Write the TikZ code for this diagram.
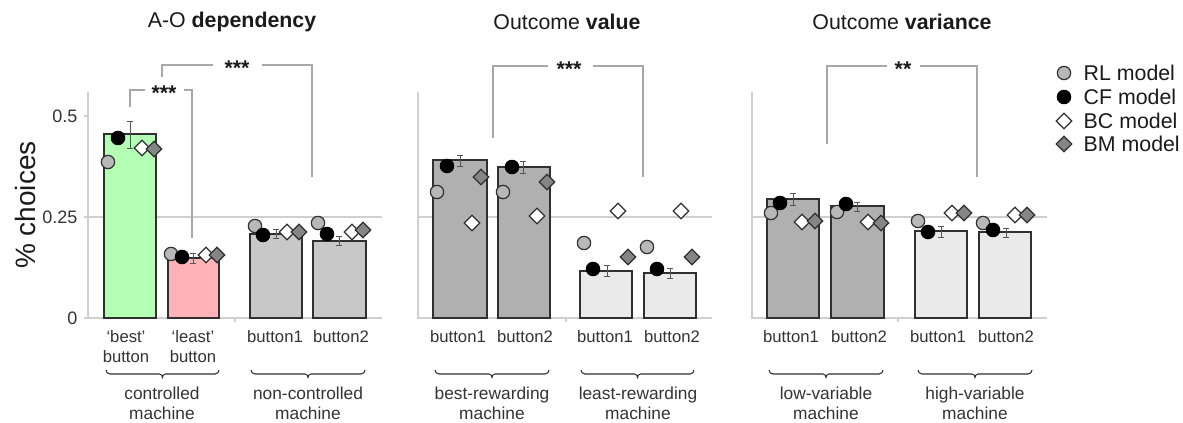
\documentclass[tikz,border=0pt]{standalone}
\usepackage{fontspec}
\setmainfont{Liberation Sans}
\usetikzlibrary{shapes.geometric}

\definecolor{greenbar}{HTML}{B3FFB3}
\definecolor{redbar}{HTML}{FFB3B8}
\definecolor{midbar}{HTML}{C8C8C8}
\definecolor{darkbar}{HTML}{B0B0B0}
\definecolor{lightbar}{HTML}{EAEAEA}
\definecolor{outline}{HTML}{303030}
\definecolor{rlfill}{HTML}{B8B8B8}
\definecolor{bmfill}{HTML}{858585}
\definecolor{axisc}{HTML}{CFCFCF}
\definecolor{brc}{HTML}{A8A8A8}
\definecolor{errc}{HTML}{555555}
\definecolor{txt}{HTML}{333333}
\definecolor{ttl}{HTML}{1A1A1A}

\tikzset{
  barbox/.style={draw=outline, line width=1.3pt},
  mk/.style={draw=outline, line width=0.9pt, inner sep=0pt, outer sep=0pt},
  rl/.style={mk, circle, fill=rlfill, minimum size=10pt},
  cf/.style={mk, circle, fill=black, draw=black, minimum size=10pt},
  bc/.style={mk, diamond, aspect=1, fill=white, minimum size=11.5pt},
  bm/.style={mk, diamond, aspect=1, fill=bmfill, minimum size=11.5pt},
  eb/.style={draw=errc, line width=0.6pt},
  axisline/.style={draw=axisc, line width=1pt},
  sigline/.style={draw=brc, line width=1.1pt},
  stars/.style={anchor=base, inner sep=0pt, text=ttl,
    font=\bfseries\fontsize{16}{16}\selectfont},
  ticklab/.style={anchor=east, text=txt, font=\fontsize{13.5}{13.5}\selectfont},
  btnlab/.style={align=center, text=txt, font=\fontsize{12.5}{15}\selectfont},
  grplab/.style={align=center, text=txt, font=\fontsize{13}{15}\selectfont},
  title/.style={text=ttl, font=\fontsize{16}{16}\selectfont},
  leglab/.style={anchor=west, text=ttl, font=\fontsize{16}{16}\selectfont},
  bracepath/.style={draw=outline, line width=0.8pt},
}

% horizontal brace under a group of bars: ends hook up, middle tip points down
\newcommand\grpbrace[2]{%
  \pgfmathsetmacro\bl{#1+4}%
  \pgfmathsetmacro\br{#2-4}%
  \pgfmathsetmacro\bm{(#1+#2)/2}%
  \pgfmathsetmacro\bml{\bm-3}%
  \pgfmathsetmacro\bmr{\bm+3}%
  \draw[bracepath] (#1,370) to[out=-90,in=180] (\bl,374)
    -- (\bml,374) to[out=0,in=90] (\bm,377.5)
    to[out=90,in=180] (\bmr,374)
    -- (\br,374) to[out=0,in=-90] (#2,370);}

\begin{document}
\begin{tikzpicture}[x=0.75pt, y=-0.75pt]
\useasboundingbox (0,0) rectangle (1183,423);

% ---------- axes, reference line at 0.25 ----------
\foreach \l/\r/\m in {88/382/235, 418/712/566, 752/1047/898}{
  \draw[axisline] (\l,92) -- (\l,318) -- (\r,318);
  \draw[axisline] (\l,217) -- (\r,217);
  \draw[axisline] (\m,318) -- (\m,322);
}
\foreach \y in {116,217,318} \draw[axisline] (84,\y) -- (88,\y);
\node[ticklab] (t50) at (82,116) {0.5};
\node[ticklab] (t25) at (82,217) {0.25};
\node[ticklab] (t00) at (82,318) {0};
\node[rotate=90, text=ttl, font=\fontsize{21}{21}\selectfont] (ylab) at (25,205) {\% choices};

% ---------- bars ----------
\foreach \a/\b/\t/\c in {
  104/156/134/greenbar, 168/219/258/redbar, 250/302/234/midbar, 313/366/241/midbar,
  433/487/160/darkbar, 498/550/167/darkbar, 580/632/271/lightbar, 644/696/273/lightbar,
  767/819/199/darkbar, 831/884/206/darkbar, 915/967/231/lightbar, 979/1031/232/lightbar}
  \draw[barbox, fill=\c] (\a,318) rectangle (\b,\t);

% ---------- error bars ----------
\foreach \x/\a/\b in {
  130/121/148, 193/253/263, 276/229/238, 339/236/245,
  460/155/166, 523/161/173, 607/265/276, 670/268/278,
  793/193/205, 857/202/211, 941/226/237, 1006/228/237}
  \draw[eb] (\x-3,\a) -- (\x+3,\a) (\x,\a) -- (\x,\b) (\x-3,\b) -- (\x+3,\b);

% ---------- model predictions ----------
\foreach \x/\y [count=\i] in {
  108/162, 171/254, 255/226, 318/223,
  437/192, 503/192, 584/243, 647/247,
  771/213, 837/212, 918/221, 983/223}
  \node[rl] (rl\i) at (\x,\y) {};
\foreach \x/\y [count=\i] in {
  118/138, 182/257, 263/235, 327/234,
  447/166, 512/167, 593/269, 657/269,
  780/203, 846/204, 928/232, 993/230}
  \node[cf] (cf\i) at (\x,\y) {};
\foreach \x/\y [count=\i] in {
  142/148, 206/255, 287/232, 352/232,
  472/223, 537/216, 618/211, 681/211,
  802/222, 868/222, 952/213, 1015/215}
  \node[bc] (bc\i) at (\x,\y) {};
\foreach \x/\y [count=\i] in {
  154/149, 217/255, 299/232, 363/230,
  481/177, 547/182, 628/257, 692/257,
  815/221, 881/223, 964/213, 1027/215}
  \node[bm] (bm\i) at (\x,\y) {};

% ---------- significance brackets ----------
% A-O dependency: best vs least
\coordinate (b1l) at (130,107); \coordinate (b1r) at (192,238);
\coordinate (g1l) at (145,90);  \coordinate (g1r) at (184,90);
\node[stars] (s1) at (164,101) {***};
\draw[sigline] (b1l) |- (g1l);
\draw[sigline] (g1r) -| (b1r);
% A-O dependency: controlled vs non-controlled
\coordinate (b2l) at (162,77);  \coordinate (b2r) at (312,177);
\coordinate (g2l) at (213,65);  \coordinate (g2r) at (262,65);
\node[stars] (s2) at (237,76) {***};
\draw[sigline] (b2l) |- (g2l);
\draw[sigline] (g2r) -| (b2r);
% Outcome value
\coordinate (b3l) at (493,138); \coordinate (b3r) at (643,177);
\coordinate (g3l) at (548,66);  \coordinate (g3r) at (593,66);
\node[stars] (s3) at (569,77) {***};
\draw[sigline] (b3l) |- (g3l);
\draw[sigline] (g3r) -| (b3r);
% Outcome variance
\coordinate (b4l) at (827,144); \coordinate (b4r) at (977,177);
\coordinate (g4l) at (887,66);  \coordinate (g4r) at (920,66);
\node[stars] (s4) at (903,77) {**};
\draw[sigline] (b4l) |- (g4l);
\draw[sigline] (g4r) -| (b4r);

% ---------- titles ----------
\node[title] (h1) at (232,22) {A-O \textbf{dependency}};
\node[title] (h2) at (567,22) {Outcome \textbf{value}};
\node[title] (h3) at (902,22) {Outcome \textbf{variance}};

% ---------- bar labels ----------
\node[btnlab] (l1) at (126,347) {‘best’\\button};
\node[btnlab] (l2) at (193,347) {‘least’\\button};
\foreach \x/\n [count=\i] in {275/1, 341/2, 458/1, 525/2, 605/1, 672/2, 791/1, 859/2, 938/1, 1006/2}
  \node[btnlab] (bl\i) at (\x,337) {button\n};

% ---------- group braces and labels ----------
\grpbrace{106}{219}
\grpbrace{251}{365}
\grpbrace{435}{549}
\grpbrace{581}{694}
\grpbrace{769}{883}
\grpbrace{918}{1032}
\node[grplab] (m1) at (162,403) {controlled\\machine};
\node[grplab] (m2) at (308,403) {non-controlled\\machine};
\node[grplab] (m3) at (492,403) {best-rewarding\\machine};
\node[grplab] (m4) at (638,403) {least-rewarding\\machine};
\node[grplab] (m5) at (826,403) {low-variable\\machine};
\node[grplab] (m6) at (975,403) {high-variable\\machine};

% ---------- legend ----------
\node[rl] (k1) at (1064,73) {};
\node[cf] (k2) at (1064,97) {};
\node[bc] (k3) at (1064,121) {};
\node[bm] (k4) at (1064,144) {};
\node[leglab] (kl1) at (1079,73) {RL model};
\node[leglab] (kl2) at (1079,97) {CF model};
\node[leglab] (kl3) at (1079,121) {BC model};
\node[leglab] (kl4) at (1079,144) {BM model};
\end{tikzpicture}
\end{document}
